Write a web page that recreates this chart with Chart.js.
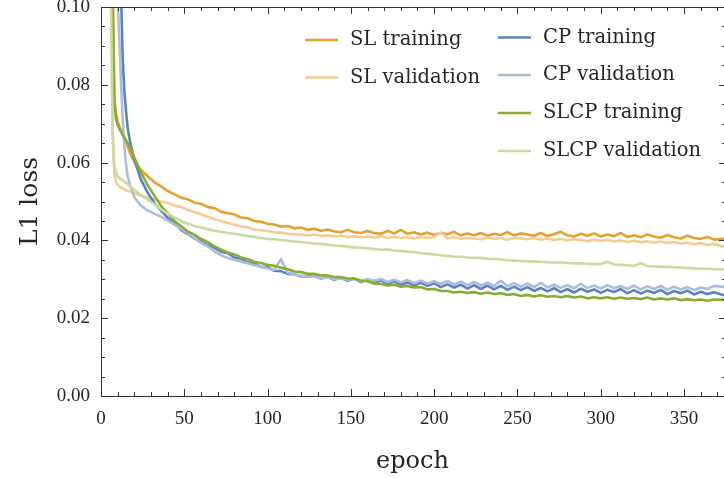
<!DOCTYPE html>
<html>
<head>
<meta charset="utf-8">
<script src="https://cdn.jsdelivr.net/npm/chart.js@4.4.1/dist/chart.umd.min.js"></script>
<style>
  html, body { margin: 0; padding: 0; background: #fff; }
  #wrap { width: 724px; height: 478px; position: relative; }
</style>
</head>
<body>
<div id="wrap"><canvas id="lossChart"></canvas></div>
<script>
// epochs at which the losses were logged
const epochs = [1,2,3,4,5,6,7,8,9,10,11,12,13,14,15,16,17,18,19,
  20,24,28,32,36,40,44,48,52,56,
  60,64,68,72,76,80,84,88,92,96,
  100,104,108,112,116,120,124,128,132,136,
  140,144,148,152,156,160,164,168,172,176,
  180,184,188,192,196,200,204,208,212,216,
  220,224,228,232,236,240,244,248,252,256,
  260,264,268,272,276,280,284,288,292,296,
  300,304,308,312,316,320,324,328,332,336,
  340,344,348,352,356,360,364,368,374];

const slTrain = [0.42,0.31,0.24,0.19,0.155,0.128,0.108,0.0765,0.0726,0.0706,0.0693,0.0683,0.0673,0.0662,0.0652,0.0641,0.0629,0.0619,0.0610,
  0.0603,0.0581,0.0565,0.0550,0.0539,0.0527,0.0519,0.0510,0.0506,0.0497,
  0.0494,0.0486,0.0483,0.0474,0.0470,0.0467,0.0459,0.0457,0.0450,0.0448,
  0.0443,0.0441,0.0435,0.0437,0.0431,0.0433,0.0427,0.0430,0.0425,0.0428,
  0.0423,0.0421,0.0427,0.0421,0.0419,0.0424,0.0419,0.0417,0.0424,0.0418,
  0.0427,0.0417,0.0421,0.0415,0.0420,0.0414,0.0419,0.0416,0.0422,0.0413,
  0.0418,0.0413,0.0419,0.0412,0.0417,0.0414,0.0421,0.0413,0.0418,0.0415,
  0.0412,0.0419,0.0411,0.0416,0.0422,0.0413,0.0410,0.0417,0.0412,0.0418,
  0.0410,0.0415,0.0411,0.0419,0.0409,0.0413,0.0408,0.0415,0.0410,0.0407,
  0.0414,0.0408,0.0405,0.0412,0.0406,0.0404,0.0409,0.0402,0.0404];

const slVal = [0.39,0.27,0.2,0.155,0.125,0.104,0.066,0.0572,0.0551,0.0543,0.0539,0.0536,0.0534,0.0531,0.0529,0.0527,0.0526,0.0524,0.0522,
  0.0521,0.0515,0.0511,0.0505,0.0500,0.0496,0.0490,0.0486,0.0479,0.0473,
  0.0467,0.0461,0.0455,0.0450,0.0445,0.0441,0.0436,0.0434,0.0428,0.0426,
  0.0424,0.0421,0.0420,0.0417,0.0416,0.0415,0.0413,0.0415,0.0412,0.0413,
  0.0410,0.0412,0.0409,0.0411,0.0408,0.0410,0.0407,0.0411,0.0406,0.0409,
  0.0407,0.0408,0.0405,0.0409,0.0406,0.0408,0.0421,0.0405,0.0408,0.0404,
  0.0407,0.0405,0.0403,0.0407,0.0404,0.0406,0.0402,0.0407,0.0405,0.0403,
  0.0406,0.0402,0.0405,0.0401,0.0404,0.0400,0.0403,0.0401,0.0398,0.0402,
  0.0399,0.0401,0.0397,0.0400,0.0396,0.0399,0.0395,0.0398,0.0394,0.0397,
  0.0393,0.0396,0.0392,0.0394,0.0390,0.0393,0.0389,0.0391,0.0383];

const cpTrain = [0.62,0.48,0.38,0.31,0.26,0.22,0.19,0.165,0.145,0.128,0.115,0.104,0.087,0.0785,0.0733,0.0690,0.0664,0.0643,0.0624,
  0.0607,0.0556,0.0523,0.0496,0.0477,0.0458,0.0444,0.0427,0.0417,0.0405,
  0.0399,0.0388,0.0381,0.0371,0.0367,0.0356,0.0353,0.0344,0.0341,0.0332,
  0.0331,0.0322,0.0321,0.0314,0.0313,0.0308,0.0307,0.0309,0.0302,0.0306,
  0.0299,0.0304,0.0296,0.0302,0.0293,0.0299,0.0290,0.0297,0.0288,0.0295,
  0.0286,0.0292,0.0284,0.0291,0.0283,0.0290,0.0280,0.0287,0.0279,0.0286,
  0.0276,0.0285,0.0275,0.0284,0.0274,0.0283,0.0273,0.0281,0.0272,0.0280,
  0.0270,0.0278,0.0269,0.0277,0.0267,0.0275,0.0266,0.0276,0.0268,0.0274,
  0.0265,0.0273,0.0267,0.0275,0.0264,0.0272,0.0263,0.0271,0.0265,0.0273,
  0.0262,0.0270,0.0264,0.0271,0.0261,0.0268,0.0262,0.0267,0.0259];

const cpVal = [0.55,0.42,0.33,0.26,0.21,0.175,0.15,0.13,0.115,0.102,0.092,0.081,0.0712,0.0645,0.0597,0.0565,0.0549,0.0535,0.0523,
  0.0511,0.0489,0.0477,0.0469,0.0461,0.0451,0.0441,0.0430,0.0419,0.0406,
  0.0394,0.0385,0.0372,0.0362,0.0355,0.0350,0.0345,0.0341,0.0336,0.0333,
  0.0328,0.0324,0.0352,0.0317,0.0313,0.0310,0.0307,0.0308,0.0303,0.0305,
  0.0300,0.0303,0.0298,0.0301,0.0295,0.0300,0.0296,0.0301,0.0293,0.0299,
  0.0292,0.0298,0.0290,0.0297,0.0289,0.0295,0.0288,0.0296,0.0286,0.0294,
  0.0285,0.0293,0.0284,0.0291,0.0283,0.0296,0.0282,0.0290,0.0281,0.0289,
  0.0280,0.0291,0.0279,0.0286,0.0278,0.0285,0.0277,0.0288,0.0278,0.0284,
  0.0276,0.0285,0.0277,0.0283,0.0275,0.0284,0.0274,0.0282,0.0275,0.0283,
  0.0273,0.0281,0.0274,0.0280,0.0272,0.0279,0.0275,0.0283,0.0280];

const slcpTrain = [0.58,0.4,0.29,0.21,0.165,0.132,0.101,0.0755,0.0713,0.0697,0.0687,0.0679,0.0671,0.0665,0.0658,0.0650,0.0641,0.0633,0.0623,
  0.0613,0.0574,0.0542,0.0515,0.0489,0.0470,0.0450,0.0437,0.0423,0.0415,
  0.0404,0.0396,0.0385,0.0377,0.0369,0.0364,0.0356,0.0352,0.0345,0.0342,
  0.0337,0.0335,0.0330,0.0326,0.0320,0.0319,0.0314,0.0314,0.0310,0.0310,
  0.0306,0.0306,0.0302,0.0302,0.0297,0.0295,0.0289,0.0288,0.0284,0.0286,
  0.0281,0.0283,0.0279,0.0280,0.0274,0.0275,0.0270,0.0270,0.0266,0.0268,
  0.0265,0.0267,0.0263,0.0266,0.0262,0.0264,0.0260,0.0262,0.0257,0.0260,
  0.0256,0.0259,0.0255,0.0257,0.0254,0.0257,0.0253,0.0256,0.0251,0.0254,
  0.0251,0.0254,0.0250,0.0253,0.0250,0.0252,0.0249,0.0253,0.0248,0.0251,
  0.0248,0.0251,0.0246,0.0249,0.0246,0.0248,0.0245,0.0248,0.0247];

const slcpVal = [0.36,0.25,0.18,0.14,0.117,0.102,0.0685,0.0594,0.0574,0.0565,0.0560,0.0557,0.0554,0.0551,0.0548,0.0545,0.0541,0.0537,0.0534,
  0.0530,0.0516,0.0505,0.0493,0.0480,0.0469,0.0459,0.0450,0.0443,0.0437,
  0.0433,0.0429,0.0425,0.0422,0.0419,0.0417,0.0414,0.0411,0.0409,0.0406,
  0.0404,0.0403,0.0401,0.0399,0.0397,0.0396,0.0394,0.0392,0.0391,0.0389,
  0.0387,0.0386,0.0384,0.0382,0.0381,0.0380,0.0378,0.0376,0.0377,0.0374,
  0.0373,0.0371,0.0370,0.0367,0.0366,0.0364,0.0362,0.0360,0.0358,0.0358,
  0.0356,0.0355,0.0355,0.0353,0.0352,0.0351,0.0349,0.0348,0.0347,0.0346,
  0.0346,0.0345,0.0344,0.0343,0.0343,0.0342,0.0341,0.0341,0.0340,0.0339,
  0.0339,0.0345,0.0338,0.0337,0.0336,0.0335,0.0342,0.0334,0.0333,0.0332,
  0.0332,0.0331,0.0330,0.0329,0.0328,0.0327,0.0327,0.0326,0.0326];

const seriesNames = ["SL training", "SL validation", "CP training", "CP validation", "SLCP training", "SLCP validation"];
const seriesValues = [slTrain, slVal, cpTrain, cpVal, slcpTrain, slcpVal];
const seriesColors = ["#e6a032", "#f3cd91", "#5f82be", "#aabedc", "#8aac34", "#c8dca0"];

const xTicks = [0, 50, 100, 150, 200, 250, 300, 350];
const yTicks = [0, 0.02, 0.04, 0.06, 0.08, 0.10];

const serif = "'DejaVu Serif', serif";
const numFont = "'Liberation Serif', serif";
const ink = "#262626";

// where each legend entry sits (line start x, row y)
const legendSlots = [[305, 40], [305, 77.5], [498, 37.5], [498, 75], [498, 113], [498, 151]];

// inward ticks on all sides, matplotlib style
const frameTicks = {
    id: "frameTicks",
    afterDatasetsDraw(chart) {
        const { ctx, chartArea: a, scales: { x, y } } = chart;
        ctx.save();
        ctx.strokeStyle = "#333";
        ctx.lineWidth = 1;
        ctx.beginPath();
        ctx.moveTo(a.left + 0.5, a.top); ctx.lineTo(a.left + 0.5, a.bottom + 0.5);
        ctx.moveTo(a.left, a.bottom + 0.5); ctx.lineTo(a.right, a.bottom + 0.5);
        ctx.moveTo(a.left, a.top + 0.5); ctx.lineTo(a.right, a.top + 0.5);
        for (let v = 0; v <= x.max; v += 10) {
            const px = Math.round(x.getPixelForValue(v)) + 0.5;
            const len = v % 50 === 0 ? 7 : 4;
            ctx.moveTo(px, a.bottom); ctx.lineTo(px, a.bottom - len);
            ctx.moveTo(px, a.top); ctx.lineTo(px, a.top + len);
        }
        for (let k = 0; k <= 20; k++) {
            const py = Math.round(y.getPixelForValue(k * 0.005)) + 0.5;
            const len = k % 4 === 0 ? 7 : 4;
            ctx.moveTo(a.left, py); ctx.lineTo(a.left + len, py);
            ctx.moveTo(a.right, py); ctx.lineTo(a.right - len + 2, py);
        }
        ctx.stroke();
        ctx.restore();
    },
    afterDraw(chart) {
        const { ctx } = chart;
        ctx.save();
        ctx.font = "19.5px " + serif;
        ctx.textBaseline = "middle";
        ctx.fillStyle = ink;
        chart.data.datasets.forEach((ds, i) => {
            const [lx, ly] = legendSlots[i];
            ctx.strokeStyle = ds.borderColor;
            ctx.lineWidth = 2.6;
            ctx.beginPath();
            ctx.moveTo(lx, ly); ctx.lineTo(lx + 33, ly);
            ctx.stroke();
            ctx.fillText(ds.label, lx + 45, ly);
        });
        ctx.restore();
    }
};

function noPad(scale) {
    scale.paddingLeft = 0; scale.paddingRight = 0;
    scale.paddingTop = 0; scale.paddingBottom = 0;
}

const datasets = seriesNames.map((name, i) => ({
    label: name,
    data: epochs.map((e, j) => ({ x: e, y: seriesValues[i][j] })),
    borderColor: seriesColors[i],
    borderWidth: 2.6,
    borderJoinStyle: "round",
    pointRadius: 0,
    tension: 0,
    fill: false,
    order: seriesNames.length - 1 - i
}));

new Chart(document.getElementById("lossChart"), {
    type: "line",
    data: { datasets },
    plugins: [frameTicks],
    options: {
        responsive: true,
        maintainAspectRatio: false,
        devicePixelRatio: 1,
        animation: false,
        layout: { padding: { top: 7, left: 0, right: 0, bottom: 0 } },
        plugins: { legend: { display: false }, tooltip: { enabled: false } },
        scales: {
            x: {
                type: "linear",
                min: 0,
                max: 374,
                grid: { display: false, drawTicks: false },
                border: { display: false },
                afterBuildTicks: s => { s.ticks = xTicks.map(v => ({ value: v })); },
                ticks: { padding: 12, color: ink, font: { family: numFont, size: 19 } },
                title: { display: true, text: "epoch", color: ink, font: { family: serif, size: 24 }, padding: { top: 0, bottom: 2 } },
                afterFit: s => { s.height = 82; noPad(s); }
            },
            y: {
                min: 0,
                max: 0.1,
                grid: { display: false, drawTicks: false },
                border: { display: false },
                afterBuildTicks: s => { s.ticks = yTicks.map(v => ({ value: v })); },
                ticks: { padding: 11, color: ink, font: { family: numFont, size: 19 }, callback: v => v.toFixed(2) },
                title: { display: true, text: "L1 loss", color: ink, font: { family: serif, size: 25 }, padding: { top: 15, bottom: 0 } },
                afterFit: s => { s.width = 101; noPad(s); }
            }
        }
    }
});
</script>
</body>
</html>
